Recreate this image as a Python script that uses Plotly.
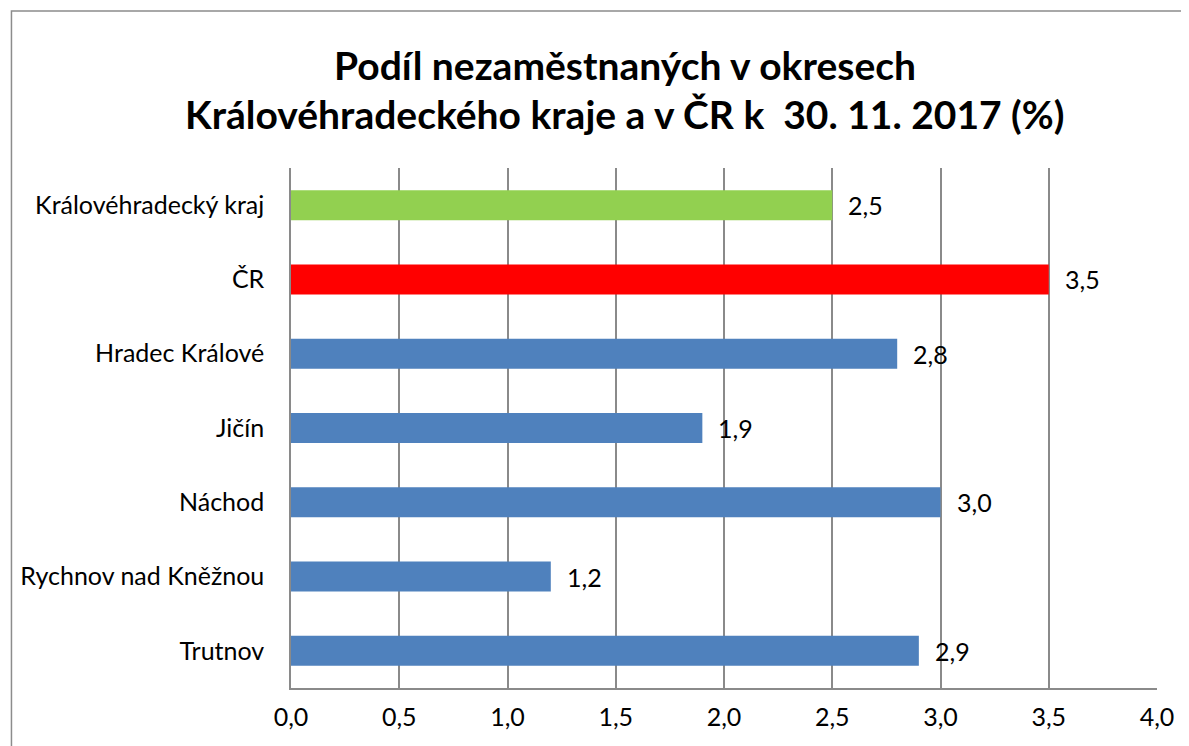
import plotly.graph_objects as go

categories = ["Královéhradecký kraj", "ČR", "Hradec Králové", "Jičín", "Náchod",
              "Rychnov nad Kněžnou", "Trutnov"]
values = [2.5, 3.5, 2.8, 1.9, 3.0, 1.2, 2.9]
bar_colors = ["#92d050", "#ff0000", "#4f81bd", "#4f81bd", "#4f81bd", "#4f81bd", "#4f81bd"]
x_ticks = [0, 0.5, 1.0, 1.5, 2.0, 2.5, 3.0, 3.5, 4.0]
x_tick_labels = ["0,0", "0,5", "1,0", "1,5", "2,0", "2,5", "3,0", "3,5", "4,0"]
title_lines = ["Podíl nezaměstnaných v okresech",
               "Královéhradeckého kraje a v ČR k  30. 11. 2017 (%)"]

FONT = "Lato"
GRID = "#8a8a8a"
FS = 25

fig = go.Figure()
fig.add_trace(go.Bar(
    y=categories, x=values, orientation="h",
    marker=dict(color=bar_colors, line=dict(width=0)),
    hoverinfo="skip",
))

annotations = []
for c, v in zip(categories, values):
    annotations.append(dict(
        x=v, y=c, xref="x", yref="y", text=f"{v:.1f}".replace(".", ","),
        showarrow=False, xanchor="left", xshift=14,
        font=dict(family=FONT, size=FS, color="black"),
    ))
annotations.append(dict(x=0.386, y=1.198, xref="paper", yref="paper", text=f"<b>{title_lines[0]}</b>",
                        showarrow=False, xanchor="center", yanchor="middle",
                        font=dict(family=FONT, size=39, color="black")))
annotations.append(dict(x=0.386, y=1.104, xref="paper", yref="paper", text=f"<b>{title_lines[1]}</b>",
                        showarrow=False, xanchor="center", yanchor="middle",
                        font=dict(family=FONT, size=39, color="black")))

fig.update_layout(
    width=1181, height=738,
    margin=dict(l=281, r=32, t=160, b=58),
    paper_bgcolor="white", plot_bgcolor="white",
    bargap=0.596,
    showlegend=False,
    annotations=annotations,
    font=dict(family=FONT, size=FS, color="black"),
    shapes=[dict(type="rect", xref="paper", yref="paper",
                 x0=-0.3228, x1=1.06, y0=-0.14, y1=1.3019,
                 line=dict(color="#8c8c8c", width=1.5), fillcolor="rgba(0,0,0,0)", layer="below")],
)
fig.update_xaxes(
    range=[0, 4.0], tickvals=x_ticks, ticktext=x_tick_labels,
    showgrid=True, gridcolor=GRID, gridwidth=1.5,
    showline=True, linecolor=GRID, linewidth=1.5,
    zeroline=False, ticks="", ticklabelstandoff=6,
    tickfont=dict(family=FONT, size=FS, color="black"),
)
fig.update_yaxes(
    autorange="reversed", showgrid=False,
    showline=True, linecolor=GRID, linewidth=1.5,
    ticks="", ticklabelstandoff=20,
    tickfont=dict(family=FONT, size=FS, color="black"),
)

fig.write_html("out.html")
